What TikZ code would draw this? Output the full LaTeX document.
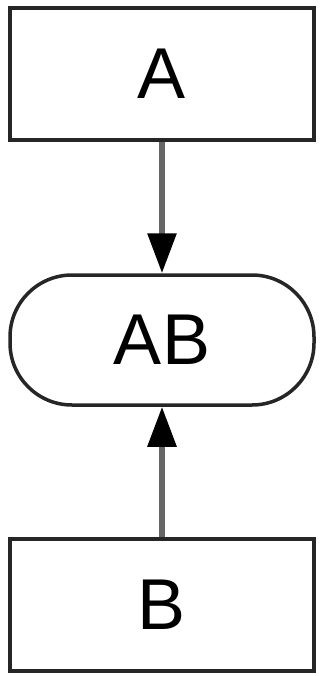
\documentclass[tikz,border=0pt]{standalone}
\usepackage{fontspec}
\setmainfont{Liberation Sans}
\usetikzlibrary{arrows.meta}
\begin{document}
\begin{tikzpicture}[x=1pt,y=-1pt,
  boxstyle/.style={draw=black!85,line width=3.5pt,fill=white,minimum width=304pt,minimum height=132pt,inner sep=0pt,font=\fontsize{72}{72}\selectfont},
  pillstyle/.style={boxstyle,rounded corners=62pt,minimum height=130pt},
  conn/.style={draw=black!60,line width=6pt,-{Triangle[length=40pt,width=28pt,color=black]}}]
\useasboundingbox (0,0) rectangle (320,676);
\node[boxstyle] (a) at (162,74) {A};
\node[pillstyle] (ab) at (162,340) {AB};
\node[boxstyle] (b) at (162,605) {B};
\draw[conn] (a.south) -- (ab.north);
\draw[conn] (b.north) -- (ab.south);
\end{tikzpicture}
\end{document}
